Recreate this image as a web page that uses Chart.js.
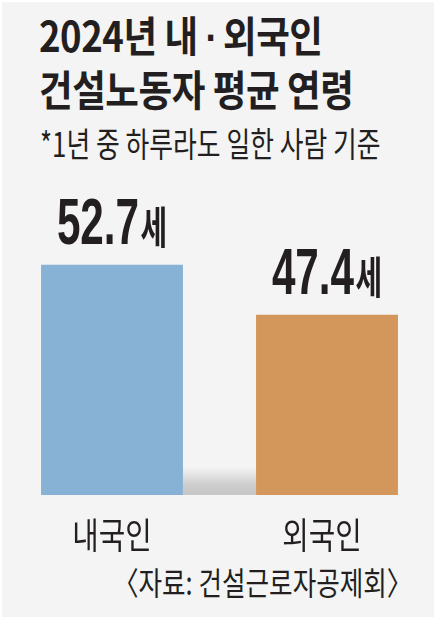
<!DOCTYPE html>
<html>
<head>
<meta charset="utf-8">
<script src="https://cdn.jsdelivr.net/npm/chart.js@4.4.1/dist/chart.umd.min.js"></script>
<style>
  html, body { margin: 0; padding: 0; background: #fff; }
  #wrap { position: relative; width: 437px; height: 621px; overflow: hidden; }
  #bg { position: absolute; left: 2px; top: 2px; width: 432px; height: 615px; background: #f4f4f4; }
  .t { position: absolute; white-space: nowrap; color: #231f20; font-family: "Noto Sans CJK KR", sans-serif; }
  #title { left: 39px; top: 9px; font-size: 42px; font-weight: 700; line-height: 50px; transform: scaleX(0.87); transform-origin: 0 0; letter-spacing: -0.5px; }
  #title .dot { font-family: "Liberation Sans", sans-serif; letter-spacing: -3px; }
  #sub { left: 40px; top: 123px; font-size: 34px; font-weight: 400; line-height: 40px; transform: scaleX(0.76); transform-origin: 0 0; }
  #src { right: 25px; top: 561px; font-size: 32px; font-weight: 400; line-height: 40px; transform: scaleX(0.8); transform-origin: 100% 0; }
  canvas { position: absolute; left: 0; top: 0; }
</style>
</head>
<body>
<div id="wrap">
  <div id="bg"></div>
  <div class="t" id="title">2024년 내 <span class="dot">·</span> 외국인<br>건설노동자 평균 연령</div>
  <div class="t" id="sub">*1년 중 하루라도 일한 사람 기준</div>
  <div class="t" id="src">〈자료: 건설근로자공제회〉</div>
  <canvas id="chart" width="437" height="621"></canvas>
</div>
<script>
// data
const categories = ["내국인", "외국인"];
const avgAge = [52.7, 47.4];
const barColors = ["#87b1d5", "#d3965b"];
const unit = "세";

const ink = "#231f20";

// grey floor shadow between the two bars
const floorShadow = {
  id: "floorShadow",
  beforeDatasetsDraw(chart) {
    const bars = chart.getDatasetMeta(0).data;
    if (bars.length < 2) return;
    const { ctx, chartArea } = chart;
    const x0 = bars[0].x + bars[0].width / 2;
    const x1 = bars[1].x - bars[1].width / 2;
    const y1 = chartArea.bottom;
    const y0 = y1 - 28;
    const g = ctx.createLinearGradient(0, y0, 0, y1);
    g.addColorStop(0, "rgba(244,244,244,1)");
    g.addColorStop(0.65, "#cdcdcd");
    g.addColorStop(1, "#c6c6c6");
    ctx.save();
    ctx.fillStyle = g;
    ctx.fillRect(x0, y0, x1 - x0, y1 - y0);
    ctx.restore();
  }
};

// value labels and category names, drawn condensed
const barLabels = {
  id: "barLabels",
  afterDatasetsDraw(chart) {
    const { ctx, chartArea } = chart;
    const bars = chart.getDatasetMeta(0).data;
    ctx.save();
    ctx.fillStyle = ink;
    ctx.textBaseline = "alphabetic";
    bars.forEach((bar, i) => {
      const num = avgAge[i].toFixed(1);
      const numFont = "bold 64px 'Liberation Sans'";
      const sufFont = "bold 44px 'Noto Sans CJK KR'";
      ctx.font = numFont;
      const wNum = ctx.measureText(num).width;
      ctx.font = sufFont;
      const wSuf = ctx.measureText(unit).width;
      const total = wNum + 2 + wSuf;
      ctx.save();
      ctx.translate(bar.x, bar.y - 21);
      ctx.scale(0.66, 1);
      ctx.textAlign = "left";
      ctx.font = numFont;
      ctx.fillText(num, -total / 2, 0);
      ctx.font = sufFont;
      ctx.fillText(unit, -total / 2 + wNum + 2, 0);
      ctx.restore();

      ctx.save();
      ctx.translate(bar.x - (i === 1 ? 5 : 0), chartArea.bottom + 54);
      ctx.scale(0.8, 1);
      ctx.textAlign = "center";
      ctx.font = "400 36px 'Noto Sans CJK KR'";
      ctx.fillText(categories[i], 0, 0);
      ctx.restore();
    });
    ctx.restore();
  }
};

new Chart(document.getElementById("chart"), {
  type: "bar",
  data: {
    labels: categories,
    datasets: [{
      data: avgAge,
      backgroundColor: barColors,
      borderWidth: 0,
      categoryPercentage: 1,
      barPercentage: 0.66
    }]
  },
  options: {
    responsive: false,
    animation: false,
    layout: { padding: { top: 196, bottom: 126, left: 4.5, right: 2.5 } },
    plugins: { legend: { display: false }, tooltip: { enabled: false } },
    scales: {
      x: { display: false },
      y: { display: false, min: 28.3, max: 60 }
    }
  },
  plugins: [floorShadow, barLabels]
});
</script>
</body>
</html>
